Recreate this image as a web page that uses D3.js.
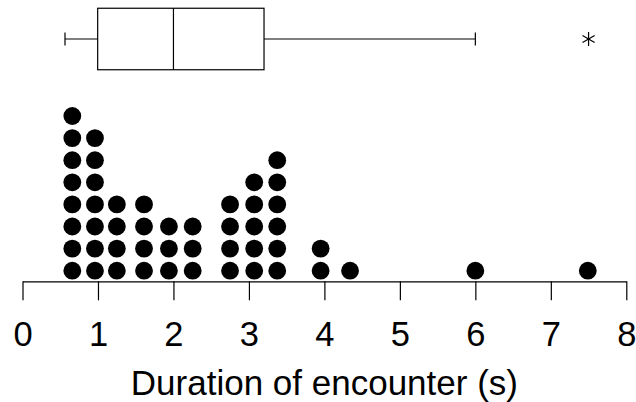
<!DOCTYPE html>
<html><head><meta charset="utf-8">
<script src="https://cdn.jsdelivr.net/npm/d3@7/dist/d3.min.js"></script>
<style>body{margin:0;background:#fff}svg{display:block}</style>
</head><body>
<script>
// Dot-plot columns: bin centre (seconds) and number of stacked dots
const binValues = [0.66, 0.96, 1.25, 1.61, 1.94, 2.255, 2.75, 3.07, 3.375, 3.95, 4.34, 6.0, 7.49];
const binCounts = [8, 7, 4, 4, 3, 3, 4, 5, 6, 2, 1, 1, 1];
// Box plot summary
const boxStats = {whiskerLow: 0.563, q1: 0.996, median: 2.0, q3: 3.2, whiskerHigh: 6.0};
const outliers = [7.5];
const tickValues = [0, 1, 2, 3, 4, 5, 6, 7, 8];
const axisTitle = "Duration of encounter (s)";

const W = 636, H = 402;
const svg = d3.select("body").append("svg").attr("width", W).attr("height", H);
const x = d3.scaleLinear().domain([0, 8]).range([22.5, 626.3]);
const font = "Liberation Sans, Arial, sans-serif";

// Box plot
const by = 39, bh = 61.5, capH = 13;
const g = svg.append("g").attr("stroke", "#000").attr("stroke-width", 1.2).attr("fill", "none");
g.append("rect").attr("x", x(boxStats.q1)).attr("y", by - bh/2)
  .attr("width", x(boxStats.q3) - x(boxStats.q1)).attr("height", bh);
g.append("line").attr("x1", x(boxStats.median)).attr("x2", x(boxStats.median))
  .attr("y1", by - bh/2).attr("y2", by + bh/2);
g.append("line").attr("x1", x(boxStats.whiskerLow)).attr("x2", x(boxStats.q1)).attr("y1", by).attr("y2", by);
g.append("line").attr("x1", x(boxStats.q3)).attr("x2", x(boxStats.whiskerHigh)).attr("y1", by).attr("y2", by);
[boxStats.whiskerLow, boxStats.whiskerHigh].forEach(v => {
  g.append("line").attr("x1", x(v)).attr("x2", x(v)).attr("y1", by - capH/2).attr("y2", by + capH/2);
});
// outlier asterisk
outliers.forEach(v => {
  const cx = x(v), r = 7;
  [90, 30, -30].forEach(a => {
    const rad = a * Math.PI / 180;
    g.append("line").attr("x1", cx - r*Math.cos(rad)).attr("y1", by - r*Math.sin(rad))
      .attr("x2", cx + r*Math.cos(rad)).attr("y2", by + r*Math.sin(rad));
  });
});

// Dots
const baseY = 270.7, step = 22.1, dotR = 8.9;
const dots = [];
binValues.forEach((v, i) => { for (let k = 0; k < binCounts[i]; k++) dots.push({v, k}); });
svg.append("g").selectAll("circle").data(dots).join("circle")
  .attr("cx", d => x(d.v)).attr("cy", d => baseY - d.k * step).attr("r", dotR).attr("fill", "#000");

// Axis
const axisY = 281.3;
const ax = svg.append("g").attr("transform", `translate(0,${axisY})`)
  .call(d3.axisBottom(x).tickValues(tickValues).tickSize(19).tickSizeOuter(0).tickPadding(22));
ax.select(".domain").attr("stroke", "#000").attr("stroke-width", 1.2);
ax.selectAll(".tick line").attr("stroke", "#000").attr("stroke-width", 1.2);
ax.selectAll(".tick text").attr("fill", "#000").attr("font-family", font).attr("font-size", 34.5)
  .attr("dy", null).attr("y", 346 - axisY);
ax.attr("font-family", font);

svg.append("text").attr("x", x(4)).attr("y", 395).attr("text-anchor", "middle")
  .attr("font-family", font).attr("font-size", 35).attr("fill", "#000").text(axisTitle);
</script>
</body></html>
